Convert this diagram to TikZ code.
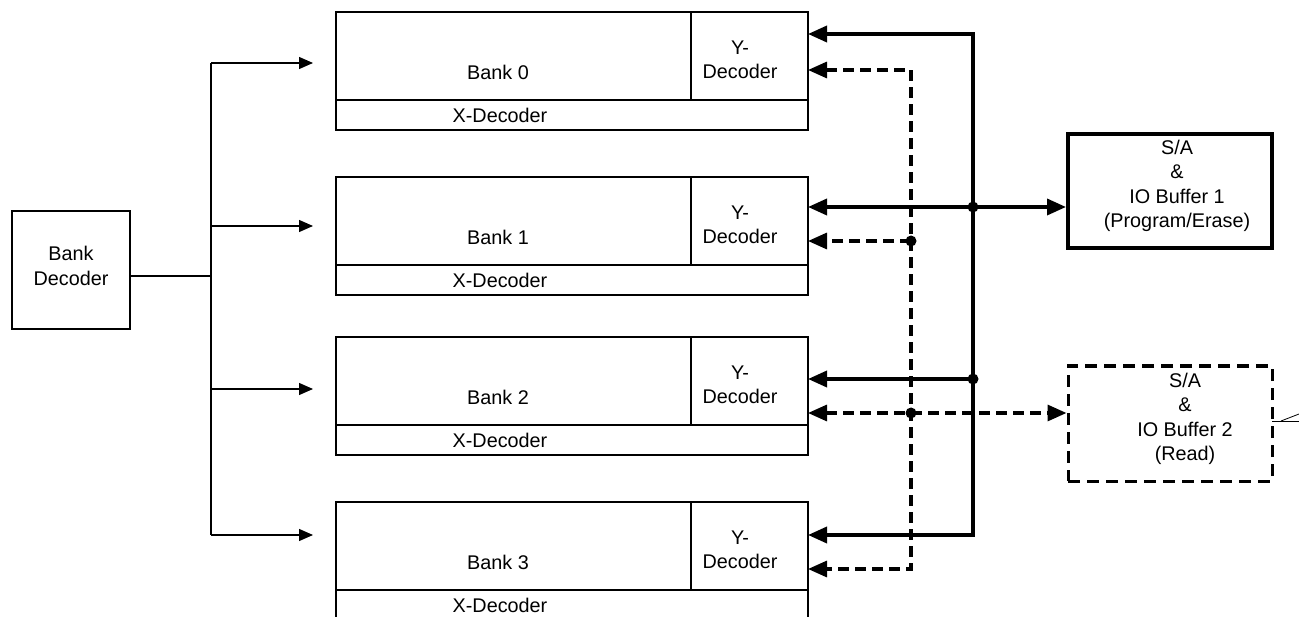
\documentclass[tikz,border=0pt]{standalone}
\usepackage{fontspec}
\setmainfont{Liberation Sans}
\usetikzlibrary{arrows.meta}
\begin{document}
\begin{tikzpicture}[x=1pt,y=-1pt,
  frame/.style={draw, line width=1.3pt, inner sep=0pt, outer sep=0pt, anchor=north west},
  lbl/.style={inner sep=0pt, align=center, font=\fontsize{19.8}{24.5}\selectfont},
  wire/.style={line width=1.3pt},
  warrow/.style={wire, -{Triangle[length=14pt,width=12pt]}},
  heavy/.style={line width=3.6pt},
  dashy/.style={line width=3.2pt, dash pattern=on 11pt off 6pt},
  >={Triangle[length=19pt,width=16pt]},
  jdot/.style={circle, fill, inner sep=0pt, minimum size=11pt},
]
\useasboundingbox (0,0) rectangle (1299,617);
\clip (0,0) rectangle (1299,617);

% banks
\foreach \i/\t in {0/12,1/177,2/337,3/502} {
  \node[frame, minimum width=355pt, minimum height=88pt] (m\i) at (336,\t) {};
  \node[frame, minimum width=117pt, minimum height=88pt] (y\i) at (691,\t) {};
  \node[frame, minimum width=472pt, minimum height=30pt] (x\i) at (336,\t+88) {};
  \node[lbl] (bl\i) at (498,\t+60) {Bank \i};
  \node[lbl] (yl\i) at (740,\t+48) {Y-\\Decoder};
  \node[lbl] (xl\i) at (500,\t+103) {X-Decoder};
}

% bank decoder
\node[frame, minimum width=118pt, minimum height=118pt] (bd) at (12,211) {};
\node[lbl] (bdl) at (71,266) {Bank\\Decoder};

\coordinate (T) at (211,276);
\coordinate (A0) at (211,63);
\coordinate (A1) at (211,226);
\coordinate (A2) at (211,389);
\coordinate (A3) at (211,535);
\coordinate (E0) at (313,63);
\coordinate (E1) at (313,226);
\coordinate (E2) at (313,389);
\coordinate (E3) at (313,535);
\draw[wire] (bd.east |- T) -- (T);
\draw[wire] (A0) -- (A3);
\foreach \i in {0,...,3} \draw[warrow] (A\i) -- (E\i);

% S/A boxes
\node[draw, line width=3.6pt, inner sep=0pt, anchor=north west, minimum width=204pt, minimum height=114pt] (s1) at (1066,132) {};
\node[lbl] (s1l) at (1177,186) {S/A\\\&\\IO Buffer 1\\(Program/Erase)};
\node[draw, line width=3.2pt, dash pattern=on 12pt off 7pt, inner sep=0pt, anchor=north west, minimum width=204pt, minimum height=115pt] (s2) at (1066.5,364.5) {};
\node[lbl] (s2l) at (1185,419) {S/A\\\&\\IO Buffer 2\\(Read)};

% heavy bus
\coordinate (B0) at (973,34);
\coordinate (B3) at (973,535);
\coordinate (J1) at (973,207);
\coordinate (J2) at (973,379);
\draw[heavy,<->] (y0.east |- B0) -- (B0) -- (B3) -- (y3.east |- B3);
\draw[heavy,->] (J1) -- (y1.east |- J1);
\draw[heavy,->] (J1) -- (s1.west |- J1);
\draw[heavy,->] (J2) -- (y2.east |- J2);

% dashed bus
\coordinate (D0) at (911,70);
\coordinate (D3) at (911,569);
\coordinate (K1) at (911,241);
\coordinate (K2) at (911,413);
\draw[dashy,<->] (y0.east |- D0) -- (D0) -- (D3) -- (y3.east |- D3);
\draw[dashy,->] (K1) -- (y1.east |- K1);
\draw[dashy,<->] (y2.east |- K2) -- (s2.west |- K2);

\node[jdot] (dJ1) at (J1) {};
\node[jdot] (dJ2) at (J2) {};
\node[jdot] (dK1) at (K1) {};
\node[jdot] (dK2) at (K2) {};

% small mark at right edge
\coordinate (R0) at (1272,421);
\coordinate (R1) at (1299,421);
\coordinate (R2) at (1281,421);
\coordinate (R3) at (1299,414);
\draw[line width=0.8pt] (R0) -- (R1);
\draw[line width=0.8pt] (R2) -- (R3);
\end{tikzpicture}
\end{document}
